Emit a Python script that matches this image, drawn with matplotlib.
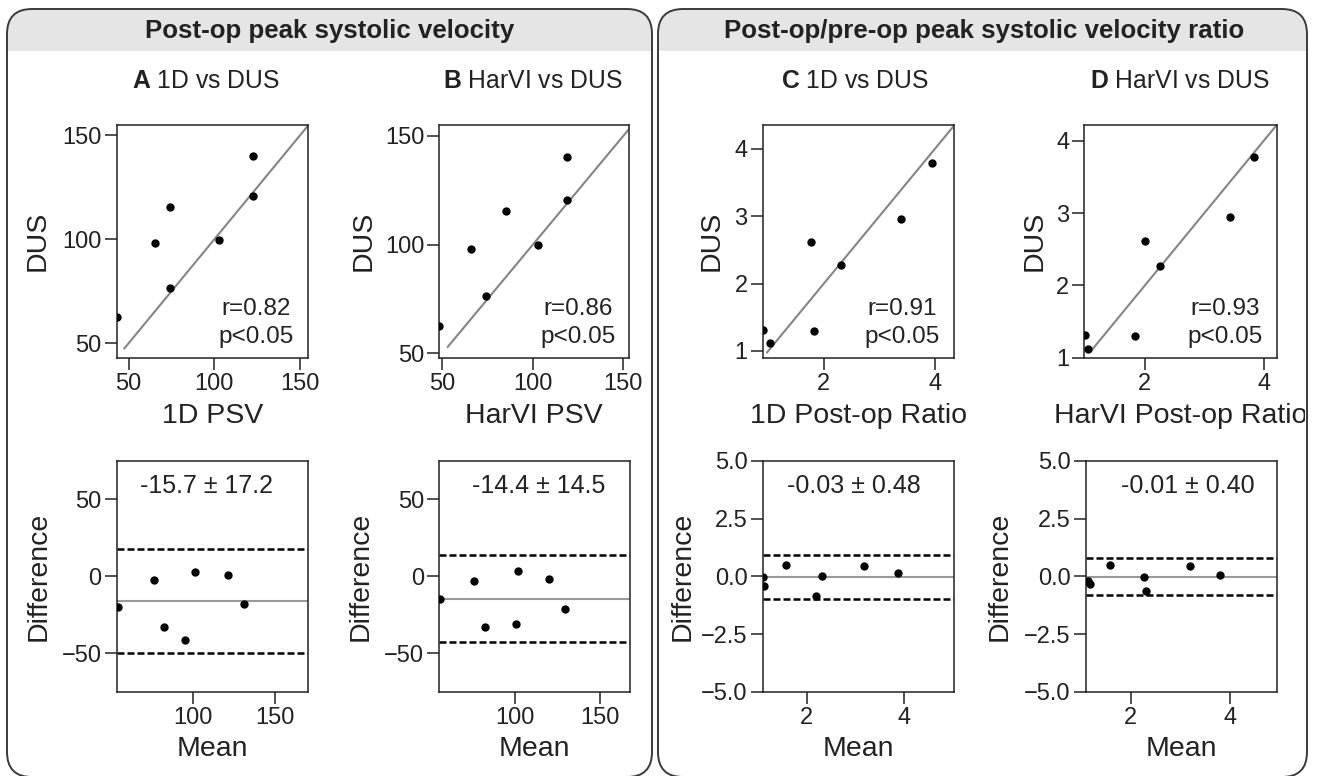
"""Device vs DUS agreement: correlation scatter (top) and Bland-Altman (bottom)."""
import matplotlib

matplotlib.use("Agg")
import matplotlib.pyplot as plt  # noqa: E402
from matplotlib.patches import FancyBboxPatch, Rectangle  # noqa: E402
from matplotlib.transforms import Bbox, TransformedBbox  # noqa: E402

plt.rcParams["font.family"] = ["Liberation Sans", "DejaVu Sans"]
plt.rcParams["mathtext.fontset"] = "custom"
plt.rcParams["mathtext.rm"] = "Liberation Sans"
plt.rcParams["mathtext.bf"] = "Liberation Sans:bold"

# ---- data ----
group_titles = ["Post-op peak systolic velocity",
                "Post-op/pre-op peak systolic velocity ratio"]
panel_letters = ["A", "B", "C", "D"]
panel_names = ["1D vs DUS", "HarVI vs DUS", "1D vs DUS", "HarVI vs DUS"]
device_labels = ["1D PSV", "HarVI PSV", "1D Post-op Ratio", "HarVI Post-op Ratio"]

dus_psv = [62.5, 98.2, 115.4, 76.6, 99.8, 120.6, 140.1]
psv_1d = [43.2, 65.4, 74.2, 74.2, 102.6, 122.3, 122.5]
psv_harvi = [48.3, 66.0, 85.0, 73.9, 103.0, 119.0, 118.9]

dus_ratio = [1.31, 1.12, 2.62, 1.30, 2.27, 2.95, 3.78]
ratio_1d = [0.91, 1.04, 1.76, 1.82, 2.30, 3.39, 3.95]
ratio_harvi = [1.00, 1.05, 2.01, 1.83, 2.26, 3.43, 3.84]

r_values = [0.82, 0.86, 0.91, 0.93]
identity_from = [47.5, 53.0, 0.98, 1.12]

ba_mean_1d_psv = [54.1, 76.0, 82.3, 94.9, 101.2, 121.1, 131.1]
ba_diff_1d_psv = [-19.9, -2.6, -32.8, -41.5, 2.8, 0.9, -17.9]
ba_mean_harvi_psv = [55.9, 75.7, 82.2, 100.4, 101.6, 120.0, 129.6]
ba_diff_harvi_psv = [-14.5, -2.8, -32.8, -30.7, 3.2, -1.9, -21.4]
ba_mean_1d_ratio = [1.10, 1.12, 1.58, 2.19, 2.31, 3.19, 3.88]
ba_diff_1d_ratio = [-0.03, -0.40, 0.51, -0.87, 0.01, 0.45, 0.16]
ba_mean_harvi_ratio = [1.13, 1.18, 1.57, 2.27, 2.31, 3.19, 3.80]
ba_diff_harvi_ratio = [-0.19, -0.32, 0.49, -0.03, -0.65, 0.45, 0.04]

bias = [-15.7, -14.4, -0.03, -0.01]
sd = [17.2, 14.5, 0.48, 0.40]

scatter_x = [psv_1d, psv_harvi, ratio_1d, ratio_harvi]
scatter_y = [dus_psv, dus_psv, dus_ratio, dus_ratio]
ba_x = [ba_mean_1d_psv, ba_mean_harvi_psv, ba_mean_1d_ratio, ba_mean_harvi_ratio]
ba_y = [ba_diff_1d_psv, ba_diff_harvi_psv, ba_diff_1d_ratio, ba_diff_harvi_ratio]

# ---- layout (pixels) ----
W, H = 1318, 776
top_lefts = [116.7, 439.3, 762.7, 1084.3]
top_widths = [191.0, 190.0, 191.3, 192.4]
bot_lefts = [116.7, 439.3, 762.7, 1085.7]
bot_widths = [191.0, 190.7, 191.3, 191.0]

top_xlim = [(43, 154.5), (48.3, 153.3), (0.90, 4.34), (0.98, 4.22)]
top_ylim = [(43, 155), (48, 155), (0.90, 4.35), (1.0, 4.22)]
top_xticks = [[50, 100, 150], [50, 100, 150], [2, 4], [2, 4]]
top_yticks = [[50, 100, 150], [50, 100, 150], [1, 2, 3, 4], [1, 2, 3, 4]]
bot_xlim = [(53.5, 170), (55.5, 167.6), (1.10, 5.03), (1.09, 4.94)]
bot_ylim = [(-75, 75), (-75, 75), (-5, 5), (-5, 5)]
bot_xticks = [[100, 150], [100, 150], [2, 4], [2, 4]]
bot_yticks = [[-50, 0, 50], [-50, 0, 50], [-5, -2.5, 0, 2.5, 5], [-5, -2.5, 0, 2.5, 5]]
ylab_x_top = [-0.415, -0.40, -0.265, -0.256]
ylab_x_bot = [-0.41, -0.41, -0.42, -0.45]
ba_text_x = [0.471, 0.519, 0.479, 0.537]
title_x = [206, 533, 855, 1180]

TXT = "#222222"
fig = plt.figure(figsize=(W / 100, H / 100), dpi=100)


def px_axes(left, top, width, height):
    return fig.add_axes([left / W, 1 - (top + height) / H, width / W, height / H])


def style(ax):
    for s in ax.spines.values():
        s.set_linewidth(1.1)
        s.set_color(TXT)
    ax.tick_params(direction="out", length=8.4, width=1.1, pad=2.5,
                   labelsize=17, color=TXT, labelcolor=TXT)


# rounded group boxes with grey header band
for (x0, x1), title, cx in zip([(7, 652), (658, 1307)], group_titles, [330, 984]):
    y0, y1 = 9, 777
    xy = (x0 / 100, (H - y1) / 100)
    wh = ((x1 - x0) / 100, (y1 - y0) / 100)
    bg = FancyBboxPatch(xy, *wh, boxstyle="round,pad=0,rounding_size=0.25",
                        transform=fig.dpi_scale_trans, fc="white", ec="none", zorder=-3)
    fig.add_artist(bg)
    band = Rectangle((x0 / 100, (H - 51) / 100), (x1 - x0) / 100, 0.42,
                     transform=fig.dpi_scale_trans, fc="#e5e5e5", ec="none", zorder=-2)
    fig.add_artist(band)
    band.set_clip_path(bg)
    edge = FancyBboxPatch(xy, *wh, boxstyle="round,pad=0,rounding_size=0.25",
                          transform=fig.dpi_scale_trans, fc="none", ec="#3a3a3a",
                          lw=1.4, zorder=-1)
    fig.add_artist(edge)
    fig.text(cx / W, 1 - 38 / H, title, ha="center", va="baseline",
             fontsize=18.6, fontweight="bold", color=TXT)

for i in range(4):
    # correlation scatter
    ax = px_axes(top_lefts[i], 125, top_widths[i], 232.7)
    style(ax)
    ax.plot([identity_from[i], top_xlim[i][1] * 2], [identity_from[i], top_xlim[i][1] * 2],
            color="#858585", lw=1.5, zorder=1)
    ax.scatter(scatter_x[i], scatter_y[i], s=36, color="black", zorder=3, linewidths=0)
    ax.set_xlim(*top_xlim[i])
    ax.set_ylim(*top_ylim[i])
    ax.set_xticks(top_xticks[i])
    ax.set_yticks(top_yticks[i])
    ax.text(0.73, 0.183, f"r={r_values[i]:.2f}", transform=ax.transAxes,
            ha="center", va="baseline", fontsize=17.5, color=TXT)
    ax.text(0.73, 0.063, "p<0.05", transform=ax.transAxes,
            ha="center", va="baseline", fontsize=17.5, color=TXT)
    fig.text(title_x[i] / W, 1 - 88 / H,
             rf"$\mathbf{{{panel_letters[i]}}}$ {panel_names[i]}",
             ha="center", va="baseline", fontsize=17.8, color=TXT)
    ax.set_ylabel("DUS", fontsize=20.5, va="center", color=TXT)
    ax.yaxis.set_label_coords(ylab_x_top[i], 0.5)
    xl = ax.set_xlabel(device_labels[i], fontsize=20.5, va="baseline", color=TXT)
    ax.xaxis.set_label_coords(0.5, -0.281)
    if i == 3:
        clip = TransformedBbox(Bbox([[0, 0], [1305 / 100, H / 100]]), fig.dpi_scale_trans)
        xl.set_clip_box(clip)
        xl.set_clip_on(True)

    # Bland-Altman
    bx = px_axes(bot_lefts[i], 460.7, bot_widths[i], 231.3)
    style(bx)
    bx.axhline(bias[i], color="#9a9a9a", lw=1.5, zorder=1)
    for sign in (1, -1):
        bx.axhline(bias[i] + sign * 1.96 * sd[i], color="black", lw=1.8,
                   linestyle=(0, (2.8, 1.2)), zorder=2)
    bx.scatter(ba_x[i], ba_y[i], s=36, color="black", zorder=3, linewidths=0)
    bx.set_xlim(*bot_xlim[i])
    bx.set_ylim(*bot_ylim[i])
    bx.set_xticks(bot_xticks[i])
    bx.set_yticks(bot_yticks[i])
    if i >= 2:
        bx.set_yticklabels([f"{v:.1f}".replace("-", "\u2212") for v in bot_yticks[i]])
    dec = 1 if i < 2 else 2
    bx.text(ba_text_x[i], 0.86, f"{bias[i]:.{dec}f} \u00b1 {sd[i]:.{dec}f}",
            transform=bx.transAxes, ha="center", va="baseline", fontsize=18,
            color=TXT)
    bx.set_ylabel("Difference", fontsize=20.5, va="center", color=TXT)
    bx.yaxis.set_label_coords(ylab_x_bot[i], 0.5)
    bx.set_xlabel("Mean", fontsize=20.5, va="baseline", color=TXT)
    bx.xaxis.set_label_coords(0.5, -0.277)

fig.savefig("out.png", dpi=100)
